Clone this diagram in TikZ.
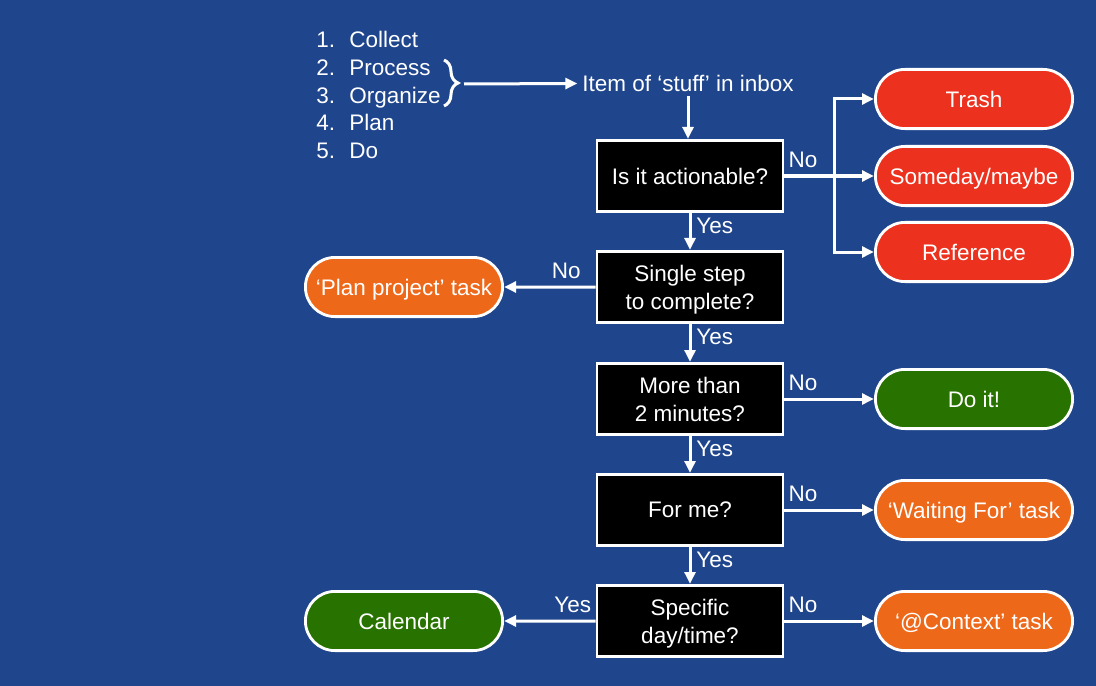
\documentclass[tikz,border=0pt]{standalone}
\usepackage{fontspec}
\setmainfont{Liberation Sans}
\usetikzlibrary{positioning,shapes.misc,arrows.meta,decorations.pathreplacing}
\definecolor{bgblue}{RGB}{31,69,140}
\definecolor{dropred}{RGB}{236,50,30}
\definecolor{taskorange}{RGB}{238,104,26}
\definecolor{actgreen}{RGB}{40,114,0}

\begin{document}
\begin{tikzpicture}
    [x=0.25mm,y=-0.25mm,every node/.style={text=white, font=\fontsize{16}{20}\selectfont},
     question/.style={draw=white, fill=black, line width=0.7mm, inner sep=0pt, align=center,
       minimum width=46.5mm, minimum height=17.8mm, text depth=0pt},
     outcome/.style={rounded rectangle, draw=white, line width=0.7mm, inner sep=0pt,
       minimum width=49.3mm, minimum height=14.8mm, text height=11.7pt, text depth=0pt},
     flow/.style={draw=white, line width=0.75mm, -{Triangle[length=3mm,width=2.7mm]}},
     lbl/.style={inner sep=2pt}]
  \useasboundingbox (0,0) rectangle (1096,686);
  \fill[bgblue] (0,0) rectangle (1096,686);

  % the five steps
  \foreach \i/\yy/\word in {1/40/Collect, 2/68/Process, 3/96/Organize, 4/123/Plan, 5/151/Do}{
    \node[anchor=base west, inner sep=0pt] (num\i) at (316,\yy+8) {\i.};
    \node[anchor=base west, inner sep=0pt] (word\i) at (349,\yy+8) {\word};
  }
  \draw[white, line width=0.75mm, decorate, decoration={brace, amplitude=3.5mm}] (444,60) -- (444,106);
  \coordinate (bracetip) at (464,84);

  % questions
  \node (item) at (688,83) {Item of ‘stuff’ in inbox};
  \node[question] (act) at (690,176) {Is it actionable?};
  \node[question] (single) at (690,287) {Single step\\to complete?};
  \node[question] (twomin) at (690,399) {More than\\2 minutes?};
  \node[question] (forme) at (690,510) {For me?};
  \node[question] (day) at (690,621) {Specific\\day/time?};

  % outcomes
  \node[outcome, fill=dropred] (trash) at (974,99) {Trash};
  \node[outcome, fill=dropred] (someday) at (974,176) {Someday/maybe};
  \node[outcome, fill=dropred] (refer) at (974,252) {Reference};
  \node[outcome, fill=taskorange] (project) at (404,287) {‘Plan project’ task};
  \node[outcome, fill=actgreen] (doit) at (974,399) {Do it!};
  \node[outcome, fill=taskorange] (waiting) at (974,510) {‘Waiting For’ task};
  \node[outcome, fill=actgreen] (calendar) at (404,621) {Calendar};
  \node[outcome, fill=taskorange] (context) at (974,621) {‘@Context’ task};

  \draw[flow] (bracetip) -- (item);
  \draw[flow] (item.south) -- (item.south |- act.north);

  \coordinate (fork) at (834,176);
  \draw[white, line width=0.75mm] (act) -- node[lbl, above right=3pt and 0pt, pos=0]{No} (fork);
  \draw[flow] (fork) |- (trash);
  \draw[flow] (fork) -- (someday);
  \draw[flow] (fork) |- (refer);

  \foreach \from/\to in {act/single, single/twomin, twomin/forme, forme/day}
    \draw[flow] (\from) -- node[lbl, right=1.5pt, pos=.35]{Yes} (\to);

  \foreach \from/\to in {twomin/doit, forme/waiting, day/context}
    \draw[flow] (\from) -- node[lbl, above right=3pt and 0pt, pos=0]{No} (\to);

  \draw[flow] (single) -- node[lbl, above=3pt, pos=.32]{No} (project);
  \draw[flow] (day) -- node[lbl, above=3pt, pos=.25]{Yes} (calendar);
\end{tikzpicture}
\end{document}
